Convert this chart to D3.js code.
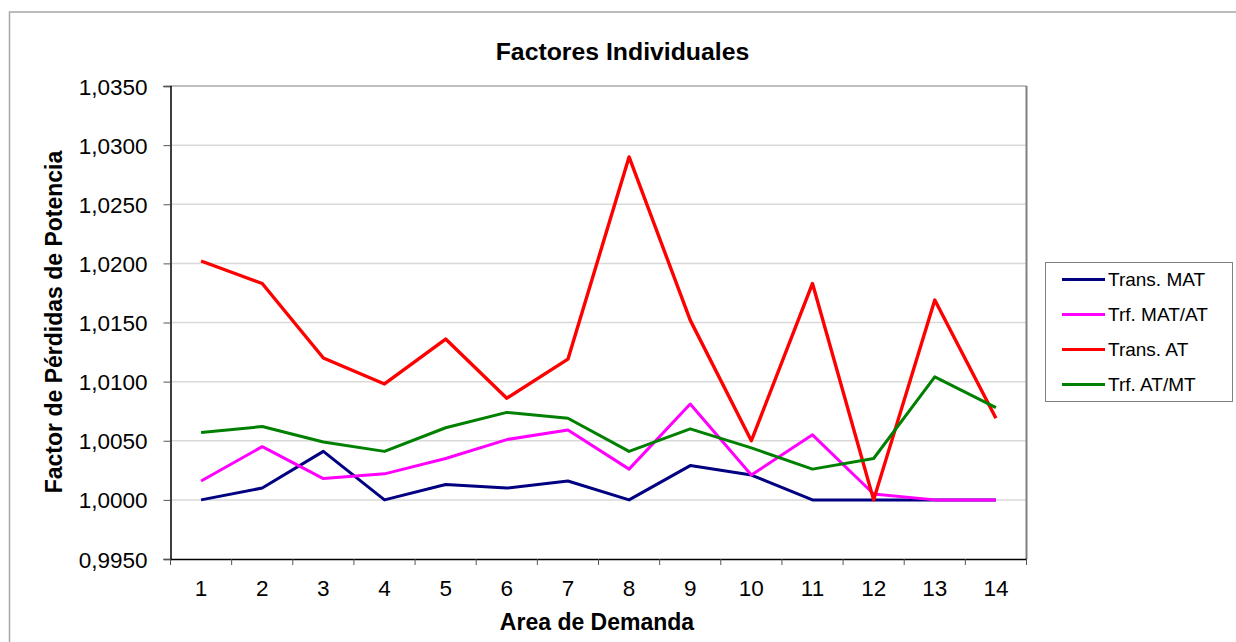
<!DOCTYPE html>
<html>
<head>
<meta charset="utf-8">
<script src="https://cdn.jsdelivr.net/npm/d3@7"></script>
<style>
  html, body { margin: 0; padding: 0; background: #fff; }
  svg { display: block; font-family: Arial, "Liberation Sans", sans-serif; }
</style>
</head>
<body>
<svg id="chart" width="1236" height="642"></svg>
<script>
const categories = [1, 2, 3, 4, 5, 6, 7, 8, 9, 10, 11, 12, 13, 14];
const seriesNames = ["Trans. MAT", "Trf. MAT/AT", "Trans. AT", "Trf. AT/MT"];
const seriesColors = ["#000080", "#ff00ff", "#ff0000", "#008000"];
const transMAT = [1.0000, 1.0010, 1.0041, 1.0000, 1.0013, 1.0010, 1.0016, 1.0000, 1.0029, 1.0021, 1.0000, 1.0000, 1.0000, 1.0000];
const trfMATAT = [1.0016, 1.0045, 1.0018, 1.0022, 1.0035, 1.0051, 1.0059, 1.0026, 1.0081, 1.0021, 1.0055, 1.0005, 1.0000, 1.0000];
const transAT  = [1.0202, 1.0183, 1.0120, 1.0098, 1.0136, 1.0086, 1.0119, 1.0290, 1.0152, 1.0050, 1.0183, 1.0000, 1.0169, 1.0069];
const trfATMT  = [1.0057, 1.0062, 1.0049, 1.0041, 1.0061, 1.0074, 1.0069, 1.0041, 1.0060, 1.0044, 1.0026, 1.0035, 1.0104, 1.0078];
const yTicks = [0.995, 1.000, 1.005, 1.010, 1.015, 1.020, 1.025, 1.030, 1.035];
const title = "Factores Individuales";
const xTitle = "Area de Demanda";
const yTitle = "Factor de Pérdidas de Potencia";

const seriesValues = [transMAT, trfMATAT, transAT, trfATMT];

const svg = d3.select("#chart");
const plot = { left: 170.5, right: 1026.5, top: 86, bottom: 559 };

// outer frame
svg.append("rect")
  .attr("x", 9.5).attr("y", 12)
  .attr("width", 1300).attr("height", 700)
  .attr("fill", "none").attr("stroke", "#a6a6a6").attr("stroke-width", 1.5);

const x = d3.scaleBand().domain(categories).range([plot.left, plot.right]).padding(0);
const y = d3.scaleLinear().domain([0.995, 1.035]).range([plot.bottom, plot.top]);

// gridlines
svg.append("g").selectAll("line").data(yTicks.slice(1, -1)).join("line")
  .attr("x1", plot.left).attr("x2", plot.right)
  .attr("y1", d => y(d)).attr("y2", d => y(d))
  .attr("stroke", "#d9d9d9").attr("stroke-width", 1.5);

// top / right frame
svg.append("line").attr("x1", plot.left).attr("x2", plot.right)
  .attr("y1", plot.top).attr("y2", plot.top)
  .attr("stroke", "#808080").attr("stroke-width", 1.2);
svg.append("line").attr("x1", plot.right).attr("x2", plot.right)
  .attr("y1", plot.top).attr("y2", plot.bottom)
  .attr("stroke", "#808080").attr("stroke-width", 2);

// y axis
const yAxis = d3.axisLeft(y).tickValues(yTicks).tickSize(7).tickPadding(16)
  .tickFormat(d => d3.format(".4f")(d).replace(".", ","));
const gy = svg.append("g").attr("transform", `translate(${plot.left},0)`).call(yAxis);
gy.select(".domain").attr("stroke", "#000").attr("stroke-width", 1.5);
gy.selectAll(".tick line").attr("stroke", "#555");
gy.selectAll(".tick text").attr("font-size", "22.5px").attr("fill", "#000")
  .attr("font-family", "Arial, 'Liberation Sans', sans-serif").attr("dy", "0.36em");

// x axis
const xAxis = d3.axisBottom(x).tickSize(0).tickPadding(21);
const gx = svg.append("g").attr("transform", `translate(0,${plot.bottom})`).call(xAxis);
gx.select(".domain").attr("stroke", "#000").attr("stroke-width", 1.5);
gx.selectAll(".tick text").attr("font-size", "22.5px").attr("fill", "#000")
  .attr("font-family", "Arial, 'Liberation Sans', sans-serif");
// x ticks at band boundaries
const boundaries = categories.map(c => x(c)).concat([x(categories[categories.length - 1]) + x.bandwidth()]);
svg.append("g").selectAll("line").data(boundaries).join("line")
  .attr("x1", d => d).attr("x2", d => d)
  .attr("y1", plot.bottom).attr("y2", plot.bottom + 6)
  .attr("stroke", "#555").attr("stroke-width", 1);

// lines
const line = d3.line()
  .x((d, i) => x(categories[i]) + x.bandwidth() / 2)
  .y(d => y(d));
seriesValues.forEach((vals, si) => {
  svg.append("path").datum(vals)
    .attr("d", line)
    .attr("fill", "none")
    .attr("stroke", seriesColors[si])
    .attr("stroke-width", si === 2 ? 3.4 : 3)
    .attr("stroke-linejoin", "round")
    .attr("stroke-linecap", "butt");
});

// titles
svg.append("text").attr("x", 622.5).attr("y", 59.5)
  .attr("text-anchor", "middle").attr("font-weight", "bold")
  .attr("font-size", "24.8px").text(title);
svg.append("text").attr("x", 597).attr("y", 630)
  .attr("text-anchor", "middle").attr("font-weight", "bold")
  .attr("font-size", "23px").text(xTitle);
svg.append("text").attr("transform", "translate(61.5,322) rotate(-90)")
  .attr("text-anchor", "middle").attr("font-weight", "bold")
  .attr("font-size", "23px").text(yTitle);

// legend
const lg = svg.append("g");
lg.append("rect").attr("x", 1045.5).attr("y", 262.5).attr("width", 187).attr("height", 139)
  .attr("fill", "#fff").attr("stroke", "#808080").attr("stroke-width", 1);
seriesNames.forEach((name, i) => {
  const ly = 279.5 + i * 35;
  lg.append("line").attr("x1", 1062).attr("x2", 1105).attr("y1", ly).attr("y2", ly)
    .attr("stroke", seriesColors[i]).attr("stroke-width", 3.2);
  lg.append("text").attr("x", 1108).attr("y", ly + 6.8)
    .attr("font-size", "19px").attr("fill", "#000").text(name);
});
</script>
</body>
</html>
